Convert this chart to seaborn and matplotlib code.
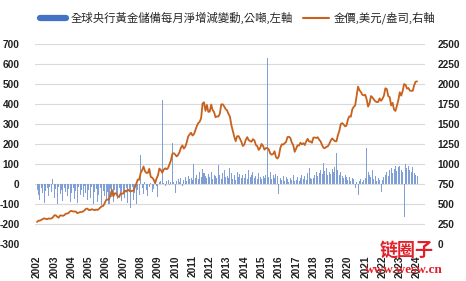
import numpy as np
import matplotlib
matplotlib.use("Agg")
import matplotlib.pyplot as plt
from matplotlib.lines import Line2D
import seaborn as sns

# ---- data (monthly, Jan 2002 .. Jan 2024) ----
start_year = 2002
# central bank monthly net change in gold reserves (tonnes, left axis)
cb_net_tonnes = [
    -30, -55, -80, -20, -45, -95, -35, -20, -60, -15, -40, 25,      # 2002
    -70, -25, -100, -15, -50, -30, -85, -20, -40, -60, -25, -90,    # 2003
    -45, -20, -75, -35, -95, -15, -55, -30, -65, -10, -45, -80,     # 2004
    -30, -70, -15, -100, -40, -25, -90, -55, -20, -105, -35, -60,   # 2005
    -80, -40, -100, -25, -65, -90, -30, -50, -75, -20, -45, -85,    # 2006
    -40, -70, -20, -95, -35, -120, -15, -80, -45, -100, -30, -55,   # 2007
    145, -20, -50, 10, -30, -60, -15, 5, -40, -25, 15, -10,         # 2008
    -65, 10, 15, 420, 5, -10, 15, 20, -5, 10, 205, 10,              # 2009
    -45, 15, 25, 10, 30, -10, 20, 35, 15, 40, 25, 30,               # 2010
    20, 100, 30, 45, 25, 60, 35, 75, 55, 40, 30, 50,                # 2011
    35, 60, 25, 45, 40, 30, 95, 45, 25, 55, 70, 35,                 # 2012
    40, 30, 80, 55, 25, 45, 20, 60, 35, 50, 30, 45,                 # 2013
    30, 50, 25, 70, 35, 45, 60, 30, 40, 25, 55, 35,                 # 2014
    25, 40, 30, 45, 630, 35, 60, 25, 45, 30, 50, 40,                # 2015
    -50, 30, 20, 40, 15, 35, 25, 10, 30, 20, 45, 15,                # 2016
    20, 35, 15, 30, 45, 25, 40, 20, 55, 80, 30, 25,                 # 2017
    30, 45, 60, 40, 55, 70, 50, 105, 65, 80, 45, 60,                # 2018
    50, 75, 60, 85, 155, 70, 45, 60, 40, 30, 45, 35,                # 2019
    20, 35, 15, 30, 25, -20, 10, -55, 15, 25, 10, 20,               # 2020
    30, 180, 60, 45, 35, 70, 25, 40, 15, 30, 20, -40,               # 2021
    20, 35, 45, 60, 40, 70, 80, 55, 75, 90, 65, 85,                 # 2022
    90, 70, 60, -165, 100, 80, 90, 70, 60, 85, 55, 45,              # 2023
    40,                                                             # 2024
]
# gold price (USD/oz, right axis)
gold_usd_oz = [
    275, 290, 292, 300, 312, 320, 313, 309, 318, 316, 318, 332,
    357, 359, 340, 328, 355, 356, 351, 360, 379, 379, 389, 407,
    414, 405, 406, 404, 384, 392, 398, 400, 406, 420, 439, 442,
    424, 423, 434, 429, 422, 431, 424, 438, 456, 470, 476, 510,
    549, 555, 557, 610, 676, 596, 633, 632, 598, 586, 627, 629,
    631, 665, 655, 679, 667, 655, 665, 665, 712, 754, 806, 803,
    889, 922, 968, 909, 888, 889, 939, 839, 829, 806, 760, 816,
    858, 943, 924, 890, 928, 946, 934, 949, 996, 1043, 1127, 1135,
    1118, 1095, 1113, 1148, 1205, 1232, 1193, 1215, 1271, 1343, 1370, 1391,
    1356, 1372, 1424, 1474, 1512, 1529, 1572, 1756, 1772, 1665, 1739, 1652,
    1656, 1743, 1674, 1650, 1585, 1596, 1594, 1630, 1745, 1747, 1721, 1688,
    1671, 1627, 1593, 1487, 1414, 1343, 1286, 1347, 1349, 1316, 1275, 1225,
    1244, 1300, 1336, 1299, 1287, 1279, 1311, 1296, 1239, 1222, 1176, 1201,
    1251, 1227, 1179, 1199, 1199, 1182, 1131, 1117, 1125, 1159, 1086, 1068,
    1097, 1200, 1246, 1242, 1260, 1276, 1337, 1341, 1326, 1267, 1236, 1152,
    1192, 1234, 1231, 1266, 1246, 1260, 1237, 1283, 1315, 1280, 1283, 1265,
    1331, 1331, 1325, 1335, 1304, 1283, 1238, 1202, 1198, 1215, 1221, 1250,
    1292, 1320, 1301, 1285, 1284, 1359, 1413, 1500, 1511, 1495, 1471, 1480,
    1560, 1597, 1592, 1683, 1715, 1732, 1847, 1968, 1922, 1901, 1866, 1858,
    1867, 1808, 1718, 1760, 1850, 1834, 1807, 1785, 1775, 1776, 1821, 1790,
    1817, 1856, 1948, 1937, 1849, 1837, 1733, 1765, 1681, 1664, 1726, 1798,
    1898, 1855, 1913, 1999, 1992, 1943, 1951, 1918, 1916, 1916, 1985, 2030,
    2034,
]
year_labels = [str(y) for y in range(2002, 2025)]
left_ticks = list(range(-300, 701, 100))
right_ticks = list(range(0, 2501, 250))
legend_labels = ["全球央行黃金儲備每月淨增減變動,公噸,左軸", "金價,美元/盎司,右軸"]

# ---- style ----
sns.set_theme(style="white")
plt.rcParams["font.family"] = ["Noto Sans CJK TC", "DejaVu Sans"]

BLUE = "#4472C4"
BAR_BLUE = "#7F9FD6"
ORANGE = "#C8611C"
tick_font = dict(family="Liberation Sans", weight="bold", size=7.3)

t = start_year + np.arange(len(cb_net_tonnes)) / 12.0

fig = plt.figure(figsize=(4.66, 2.81), dpi=100)
ax = fig.add_axes([0.075, 0.132, 0.837, 0.711])

ax.bar(t, cb_net_tonnes, width=1 / 12 * 0.7, color=BAR_BLUE, linewidth=0, zorder=2)

ax2 = ax.twinx()
sns.lineplot(x=t, y=gold_usd_oz, ax=ax2, color=ORANGE, linewidth=1.3, zorder=3)

ax.set_xlim(2001.88, 2024.46)
ax.set_ylim(-300, 700)
ax2.set_ylim(0, 2500)

ax.set_yticks(left_ticks)
ax.set_yticklabels([str(v) for v in left_ticks], fontdict=tick_font)
ax2.set_yticks(right_ticks)
ax2.set_yticklabels([str(v) for v in right_ticks], fontdict=tick_font)
ax.set_xticks([int(s) for s in year_labels])
ax.set_xticklabels(year_labels, fontdict=tick_font, rotation=90)

ax.tick_params(axis="y", length=0, pad=11, colors="#222222")
ax2.tick_params(axis="y", length=0, pad=9, colors="#222222")
ax.tick_params(axis="x", length=0, pad=8, colors="#222222")

ax.grid(axis="y", color="#d9d9d9", linewidth=0.8)
ax.grid(axis="x", visible=False)
ax2.grid(False)
ax.set_axisbelow(True)
for a in (ax, ax2):
    for s in a.spines.values():
        s.set_visible(False)
ax.set_xlabel("")
ax.set_ylabel("")
ax2.set_ylabel("")

handles = [Line2D([], [], color=BLUE, linewidth=4.5),
           Line2D([], [], color=ORANGE, linewidth=1.5)]
fig.legend(handles, legend_labels, loc="center", bbox_to_anchor=(0.51, 0.936),
           ncol=2, frameon=False, fontsize=8.2, handlelength=2.3,
           handletextpad=0.35, columnspacing=0.9)

# watermark (present in the reference image)
fig.text(0.872, 0.108, "链圈子", color="#E0202A", fontsize=13, fontweight="bold",
         family=["Noto Sans CJK SC"], ha="center", va="center", zorder=10)
fig.text(0.866, 0.04, "www.wesw.cn", color="#E0202A", fontsize=9.5, fontweight="bold",
         family=["Liberation Serif"], ha="center", va="center", zorder=10)

fig.savefig("out.png", dpi=100)
